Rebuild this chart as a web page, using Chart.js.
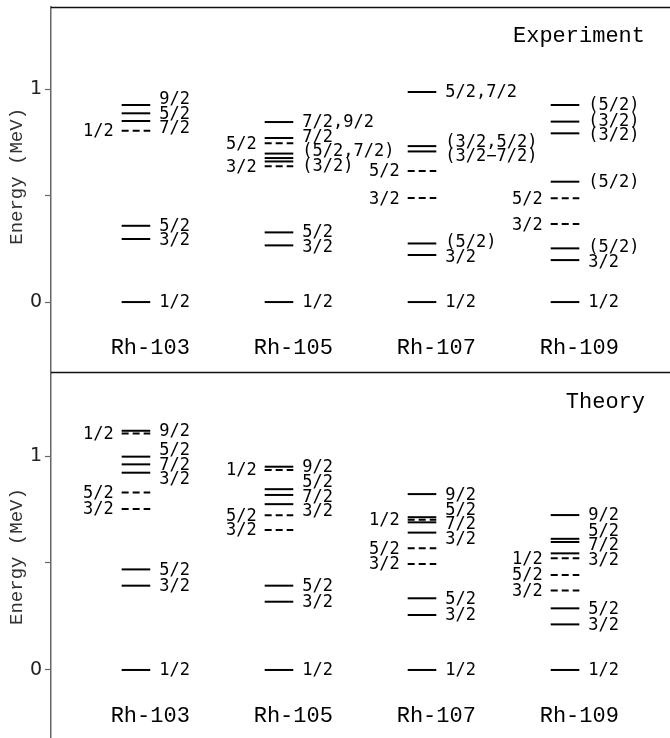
<!DOCTYPE html>
<html>
<head>
<meta charset="utf-8">
<script src="https://cdn.jsdelivr.net/npm/chart.js@4.4.1/dist/chart.umd.min.js"></script>
<style>
  html, body { margin: 0; padding: 0; background: #fff; }
  #wrap { position: relative; width: 670px; height: 738px; }
  .panel { position: absolute; left: 0; width: 670px; }
  #panel-top { top: 0; height: 374px; }
  #panel-bottom { top: 373px; height: 365px; }
</style>
</head>
<body>
<div id="wrap">
  <div class="panel" id="panel-top"><canvas id="experiment"></canvas></div>
  <div class="panel" id="panel-bottom"><canvas id="theory"></canvas></div>
</div>
<script>
// Isotopes, one column each
const isotopes = ['Rh-103', 'Rh-105', 'Rh-107', 'Rh-109'];

// Energy axis ticks (MeV)
const energyTicks = [0, 0.5, 1];
const energyTickLabels = ['0', '', '1'];

// Experimental levels: energy (MeV), spin label, dashed = left-labelled band
const expRh103Energy = [0, 0.296, 0.358, 0.804, 0.850, 0.886, 0.925];
const expRh103Spin   = ['1/2', '3/2', '5/2', '1/2', '7/2', '5/2', '9/2'];
const expRh103Dashed = [0, 0, 0, 1, 0, 0, 0];

const expRh105Energy = [0, 0.266, 0.327, 0.638, 0.660, 0.676, 0.697, 0.746, 0.770, 0.845];
const expRh105Spin   = ['1/2', '3/2', '5/2', '3/2', '(3/2)', '', '(5/2,7/2)', '5/2', '7/2', '7/2,9/2'];
const expRh105Dashed = [0, 0, 0, 1, 0, 0, 0, 1, 0, 0];

const expRh107Energy = [0, 0.221, 0.275, 0.488, 0.615, 0.707, 0.732, 0.986];
const expRh107Spin   = ['1/2', '3/2', '(5/2)', '3/2', '5/2', '(3/2\u22127/2)', '(3/2,5/2)', '5/2,7/2'];
const expRh107Dashed = [0, 0, 0, 1, 1, 0, 0, 0];

const expRh109Energy = [0, 0.197, 0.252, 0.366, 0.487, 0.565, 0.792, 0.847, 0.925];
const expRh109Spin   = ['1/2', '3/2', '(5/2)', '3/2', '5/2', '(5/2)', '(3/2)', '(3/2)', '(5/2)'];
const expRh109Dashed = [0, 0, 0, 1, 1, 0, 0, 0, 0];

// Calculated levels
const thRh103Energy = [0, 0.394, 0.470, 0.752, 0.829, 0.922, 0.961, 0.997, 1.105, 1.118];
const thRh103Spin   = ['1/2', '3/2', '5/2', '3/2', '5/2', '3/2', '7/2', '5/2', '1/2', '9/2'];
const thRh103Dashed = [0, 0, 0, 1, 1, 0, 0, 0, 1, 0];

const thRh105Energy = [0, 0.319, 0.394, 0.654, 0.723, 0.775, 0.818, 0.845, 0.935, 0.950];
const thRh105Spin   = ['1/2', '3/2', '5/2', '3/2', '5/2', '3/2', '7/2', '5/2', '1/2', '9/2'];
const thRh105Dashed = [0, 0, 0, 1, 1, 0, 0, 0, 1, 0];

const thRh107Energy = [0, 0.257, 0.335, 0.495, 0.569, 0.642, 0.690, 0.702, 0.714, 0.822];
const thRh107Spin   = ['1/2', '3/2', '5/2', '3/2', '5/2', '3/2', '7/2', '1/2', '5/2', '9/2'];
const thRh107Dashed = [0, 0, 0, 1, 1, 0, 0, 1, 0, 0];

const thRh109Energy = [0, 0.213, 0.288, 0.371, 0.444, 0.522, 0.545, 0.598, 0.613, 0.724];
const thRh109Spin   = ['1/2', '3/2', '5/2', '3/2', '5/2', '1/2', '3/2', '7/2', '5/2', '9/2'];
const thRh109Dashed = [0, 0, 0, 1, 1, 1, 0, 0, 0, 0];

const experiment = [
  { energy: expRh103Energy, spin: expRh103Spin, dashed: expRh103Dashed },
  { energy: expRh105Energy, spin: expRh105Spin, dashed: expRh105Dashed },
  { energy: expRh107Energy, spin: expRh107Spin, dashed: expRh107Dashed },
  { energy: expRh109Energy, spin: expRh109Spin, dashed: expRh109Dashed }
];
const theory = [
  { energy: thRh103Energy, spin: thRh103Spin, dashed: thRh103Dashed },
  { energy: thRh105Energy, spin: thRh105Spin, dashed: thRh105Dashed },
  { energy: thRh107Energy, spin: thRh107Spin, dashed: thRh107Dashed },
  { energy: thRh109Energy, spin: thRh109Spin, dashed: thRh109Dashed }
];

const HALF = 0.1;          // half width of a level bar, in column units
const LABEL_GAP = 14.5;    // minimum vertical spacing between spin labels (px)
const spinFont = '17px "DejaVu Sans Mono"';
const monoFont = '"Liberation Mono", monospace';

// one two-point line per level
function levelDatasets(columns) {
  const sets = [];
  columns.forEach((col, i) => {
    const c = i + 1;
    col.energy.forEach((e, k) => {
      sets.push({
        data: [{ x: c - HALF, y: e }, { x: c + HALF, y: e }],
        borderColor: '#000',
        borderWidth: 2,
        borderDash: col.dashed[k] ? [7, 4] : [],
        pointRadius: 0,
        fill: false
      });
    });
  });
  return sets;
}

// push overlapping labels apart, keeping each cluster centred on its levels
function spread(ys) {
  let groups = ys.map(y => ({ ys: [y], center: y }));
  let merged = true;
  while (merged) {
    merged = false;
    for (let i = 0; i < groups.length - 1; i++) {
      const a = groups[i], b = groups[i + 1];
      const aEnd = a.center + (a.ys.length - 1) * LABEL_GAP / 2;
      const bStart = b.center - (b.ys.length - 1) * LABEL_GAP / 2;
      if (bStart - aEnd < LABEL_GAP) {
        const all = a.ys.concat(b.ys);
        groups.splice(i, 2, { ys: all, center: all.reduce((s, v) => s + v, 0) / all.length });
        merged = true;
        break;
      }
    }
  }
  const out = [];
  groups.forEach(g => {
    const n = g.ys.length;
    for (let k = 0; k < n; k++) out.push(g.center + (k - (n - 1) / 2) * LABEL_GAP);
  });
  return out;
}

function drawSide(ctx, items, x, align) {
  items.sort((a, b) => a.y - b.y);
  const ys = spread(items.map(it => it.y));
  ctx.textAlign = align;
  items.forEach((it, k) => ctx.fillText(it.text, x, ys[k] + 1));
}

const levelLabels = {
  id: 'levelLabels',
  afterDatasetsDraw(chart, args, opts) {
    const { ctx, chartArea } = chart;
    const xs = chart.scales.x, ys = chart.scales.y;
    ctx.save();
    ctx.fillStyle = '#000';
    ctx.textBaseline = 'middle';
    ctx.font = spinFont;
    opts.columns.forEach((col, i) => {
      const c = i + 1;
      const right = [], left = [];
      col.energy.forEach((e, k) => {
        const text = col.spin[k];
        if (!text) return;
        const item = { y: ys.getPixelForValue(e), text };
        (col.dashed[k] ? left : right).push(item);
      });
      drawSide(ctx, right, xs.getPixelForValue(c + HALF) + 9, 'left');
      drawSide(ctx, left, xs.getPixelForValue(c - HALF) - 8, 'right');
    });

    // isotope names under the columns
    ctx.font = '22px ' + monoFont;
    ctx.textAlign = 'center';
    isotopes.forEach((name, i) => {
      ctx.fillText(name, xs.getPixelForValue(i + 1 + HALF), ys.getPixelForValue(-0.215));
    });

    // panel title, top right
    ctx.textAlign = 'right';
    ctx.fillText(opts.title, chartArea.right - 25, ys.getPixelForValue(1.25));

    // vertical axis title
    ctx.save();
    ctx.font = '19px ' + monoFont;
    ctx.fillStyle = '#333';
    ctx.textAlign = 'center';
    ctx.translate(17, ys.getPixelForValue(opts.axisTitleAt));
    ctx.rotate(-Math.PI / 2);
    ctx.fillText('Energy (MeV)', 0, 0);
    ctx.restore();

    // frame lines
    ctx.strokeStyle = '#111';
    ctx.lineWidth = 1.5;
    ctx.beginPath();
    if (opts.frameTop) {
      ctx.moveTo(chartArea.left, chartArea.top + 0.5);
      ctx.lineTo(chartArea.right, chartArea.top + 0.5);
    }
    if (opts.frameBottom) {
      ctx.moveTo(chartArea.left, chartArea.bottom - 0.5);
      ctx.lineTo(chartArea.right, chartArea.bottom - 0.5);
    }
    ctx.stroke();
    ctx.restore();
  }
};

function makePanel(canvasId, columns, title, yMin, yMax, padding, axisTitleAt, frameTop, frameBottom) {
  return new Chart(document.getElementById(canvasId), {
    type: 'line',
    data: { datasets: levelDatasets(columns) },
    options: {
      responsive: true,
      maintainAspectRatio: false,
      animation: false,
      layout: { padding },
      plugins: {
        legend: { display: false },
        tooltip: { enabled: false },
        levelLabels: { columns, title, axisTitleAt, frameTop, frameBottom }
      },
      scales: {
        x: { type: 'linear', min: 0.406, max: 4.734, display: false },
        y: {
          type: 'linear',
          min: yMin,
          max: yMax,
          afterBuildTicks: axis => { axis.ticks = energyTicks.map(v => ({ value: v })); },
          afterFit: axis => {
            axis.width = 51;
            axis.paddingTop = 0;
            axis.paddingBottom = 0;
          },
          ticks: {
            callback: v => energyTickLabels[energyTicks.indexOf(v)],
            font: { family: 'DejaVu Sans', size: 19 },
            color: '#222',
            padding: 3
          },
          grid: { drawOnChartArea: false, tickLength: 6, color: '#666', tickWidth: 1.2 },
          border: { color: '#666', width: 1.5 }
        }
      }
    },
    plugins: [levelLabels]
  });
}

makePanel('experiment', experiment, 'Experiment', -0.333, 1.385, { top: 7, bottom: 1, left: 0, right: 0 }, 0.59, true, true);
makePanel('theory', theory, 'Theory', -0.318, 1.388, { top: 0, bottom: 0, left: 0, right: 0 }, 0.53, false, false);
</script>
</body>
</html>
